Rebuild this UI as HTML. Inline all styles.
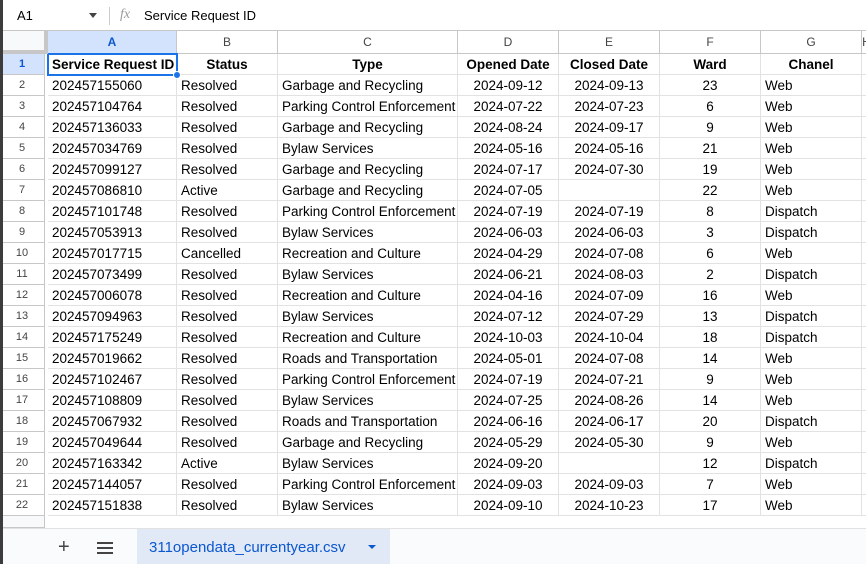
<!DOCTYPE html>
<html><head><meta charset="utf-8"><style>
body{margin:0;width:866px;height:564px;overflow:hidden;background:#fff;font-family:"Liberation Sans",Arial,sans-serif;position:relative}
.a{position:absolute;box-sizing:border-box}
.c{position:absolute;box-sizing:border-box;height:21px;line-height:21px;font-size:13.5px;color:#000;border-right:1px solid #e2e2e2;border-bottom:1px solid #e2e2e2;padding:0 4px;white-space:nowrap;overflow:hidden}
.h{position:absolute;box-sizing:border-box;height:23px;line-height:23px;font-size:12px;color:#444;text-align:center;background:#fff;border-right:1px solid #c7c7c7;border-bottom:1px solid #c7c7c7}
.rn{position:absolute;box-sizing:border-box;left:3px;width:45px;height:21px;line-height:20px;font-size:11px;color:#444;text-align:center;border-right:1px solid #c7c7c7;border-bottom:1px solid #c7c7c7;background:#fff}
</style></head><body>
<div class="a" style="left:0;top:0;width:3px;height:564px;background:#3c3c3c;z-index:5"></div>
<div class="a" style="left:3px;top:0;width:863px;height:31px;background:#fff;border-bottom:1px solid #c7c7c7"></div>
<div class="a" style="left:17px;top:8px;font-size:13px;color:#000">A1</div>
<div class="a" style="left:89px;top:13px;width:0;height:0;border-left:4px solid transparent;border-right:4px solid transparent;border-top:5px solid #444"></div>
<div class="a" style="left:109px;top:7px;width:1px;height:18px;background:#ccc"></div>
<div class="a" style="left:120px;top:7px;font-size:14px;font-style:italic;color:#999;font-family:'Liberation Serif',serif">fx</div>
<div class="a" style="left:144px;top:8px;font-size:13px;color:#000">Service Request ID</div>
<div id="grid"></div>
<div class="a" style="left:3px;top:31px;width:45px;height:23px;background:#f8f9fa;border-right:4px solid #c7c7c7;border-bottom:4px solid #c7c7c7"></div>
<div class="a" style="left:3px;top:528px;width:863px;height:36px;background:#f9fbfd;border-top:1px solid #e2e2e2"></div>
<div class="a" style="left:58px;top:536px;font-size:20px;color:#444">+</div>
<div class="a" style="left:97px;top:542px;width:16px;height:2px;background:#444;box-shadow:0 5px 0 #444,0 10px 0 #444"></div>
<div class="a" style="left:137px;top:529px;width:253px;height:35px;background:#e1e9f7;color:#0b57d0;font-size:15px;line-height:37px;padding-left:12px">311opendata_currentyear.csv<span style="position:absolute;left:231px;top:16px;width:0;height:0;border-left:4px solid transparent;border-right:4px solid transparent;border-top:4px solid #0b57d0"></span></div>
<script>
const cols=[["A",48,129,"left"],["B",177,101,"left"],["C",278,180,"left"],["D",458,101,"center"],["E",559,101,"center"],["F",660,101,"center"],["G",761,101,"left"],["H",862,10,"left"]];
const header=["Service Request ID","Status","Type","Opened Date","Closed Date","Ward","Chanel",""];
const rows=[
["202457155060","Resolved","Garbage and Recycling","2024-09-12","2024-09-13","23","Web"],
["202457104764","Resolved","Parking Control Enforcement","2024-07-22","2024-07-23","6","Web"],
["202457136033","Resolved","Garbage and Recycling","2024-08-24","2024-09-17","9","Web"],
["202457034769","Resolved","Bylaw Services","2024-05-16","2024-05-16","21","Web"],
["202457099127","Resolved","Garbage and Recycling","2024-07-17","2024-07-30","19","Web"],
["202457086810","Active","Garbage and Recycling","2024-07-05","","22","Web"],
["202457101748","Resolved","Parking Control Enforcement","2024-07-19","2024-07-19","8","Dispatch"],
["202457053913","Resolved","Bylaw Services","2024-06-03","2024-06-03","3","Dispatch"],
["202457017715","Cancelled","Recreation and Culture","2024-04-29","2024-07-08","6","Web"],
["202457073499","Resolved","Bylaw Services","2024-06-21","2024-08-03","2","Dispatch"],
["202457006078","Resolved","Recreation and Culture","2024-04-16","2024-07-09","16","Web"],
["202457094963","Resolved","Bylaw Services","2024-07-12","2024-07-29","13","Dispatch"],
["202457175249","Resolved","Recreation and Culture","2024-10-03","2024-10-04","18","Dispatch"],
["202457019662","Resolved","Roads and Transportation","2024-05-01","2024-07-08","14","Web"],
["202457102467","Resolved","Parking Control Enforcement","2024-07-19","2024-07-21","9","Web"],
["202457108809","Resolved","Bylaw Services","2024-07-25","2024-08-26","14","Web"],
["202457067932","Resolved","Roads and Transportation","2024-06-16","2024-06-17","20","Dispatch"],
["202457049644","Resolved","Garbage and Recycling","2024-05-29","2024-05-30","9","Web"],
["202457163342","Active","Bylaw Services","2024-09-20","","12","Dispatch"],
["202457144057","Resolved","Parking Control Enforcement","2024-09-03","2024-09-03","7","Web"],
["202457151838","Resolved","Bylaw Services","2024-09-10","2024-10-23","17","Web"]];
const g=document.getElementById('grid');
function mk(cls,x,y,w,txt){const d=document.createElement('div');d.className=cls;d.style.left=x+'px';d.style.top=y+'px';if(w)d.style.width=w+'px';d.textContent=txt;g.appendChild(d);return d;}
cols.forEach((c,i)=>{
  const h=mk('h',c[1],31,c[2],c[0]);
  
  
  if(i===0){h.style.background='#d3e3fd';h.style.color='#0b57d0';h.style.fontWeight='bold';}
});
const all=[header].concat(rows);
all.forEach((r,ri)=>{
  const y=54+ri*21;
  const n=mk('rn',0,y,0,String(ri+1));
  
  
  if(ri===0){n.style.background='#d3e3fd';n.style.color='#0b57d0';n.style.fontWeight='bold';}
  cols.forEach((c,ci)=>{
    const t=r[ci]||"";
    const d=mk('c',c[1],y,c[2],t);
    
    
    d.style.textAlign=ri===0?'center':c[3];
    if(ri===0)d.style.fontWeight='bold';
  });
});
const e=mk('rn',0,516,0,'');e.style.height='12px';e.style.background='#f8f9fa';


const sel=document.createElement('div');sel.className='a';
sel.style.cssText='left:47px;top:53px;width:131px;height:23px;border:2px solid #1a73e8';


g.appendChild(sel);
const hd=document.createElement('div');hd.className='a';
hd.style.cssText='left:173px;top:71px;width:8px;height:8px;border-radius:50%;background:#1a73e8;border:1px solid #fff';


g.appendChild(hd);
</script>
</body></html>
